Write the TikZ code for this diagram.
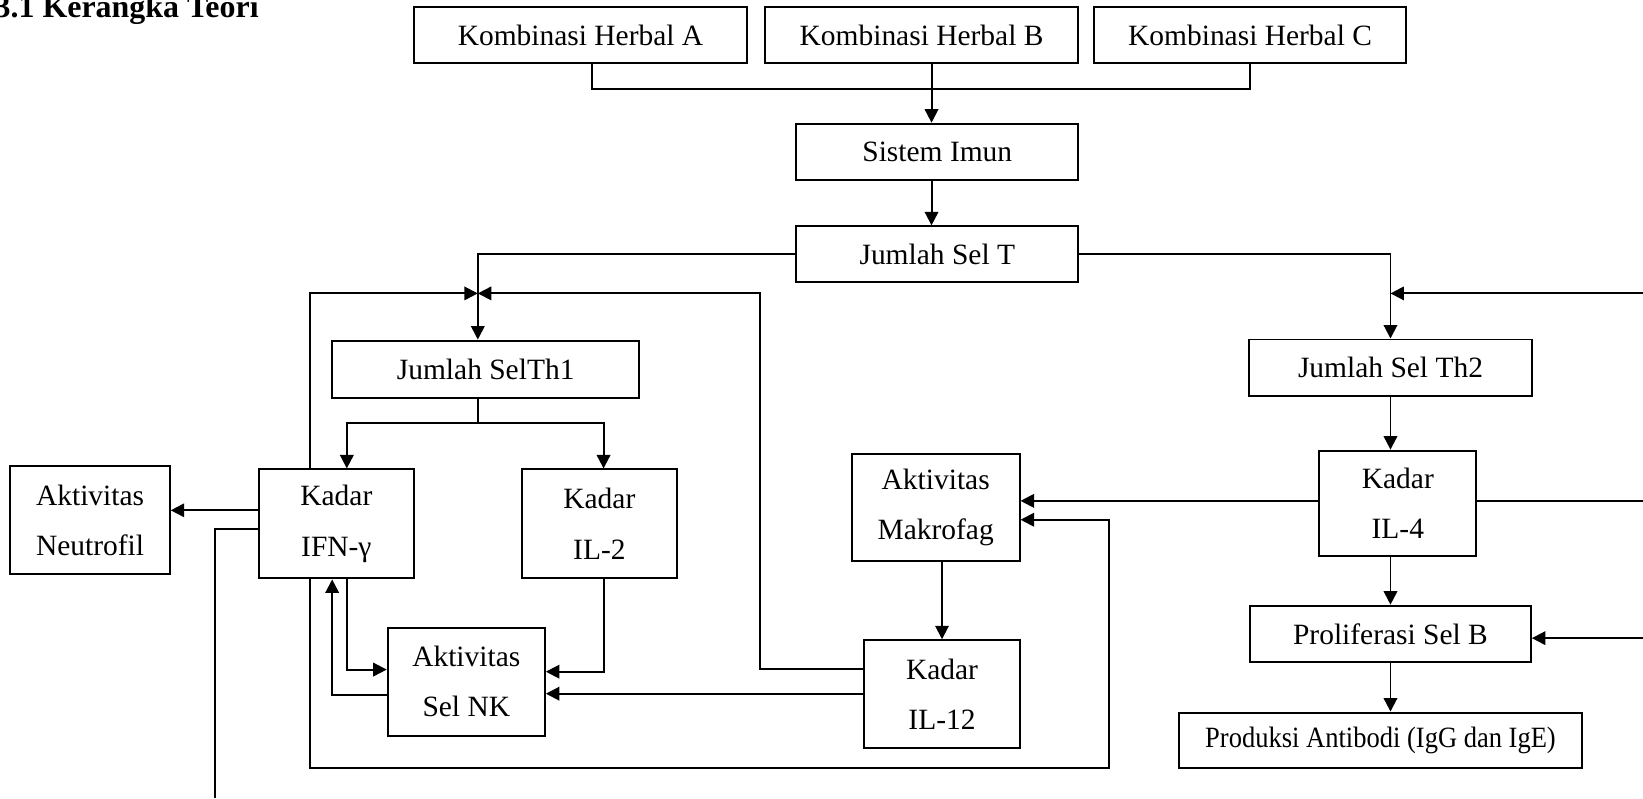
\documentclass[tikz,border=0pt]{standalone}
\usepackage{fontspec}
\setmainfont{Liberation Serif}
\usetikzlibrary{arrows.meta}
\tikzset{
    kotak/.style 2 args={
		draw, line width=0.8pt, inner sep=0pt, align=center,
		minimum width=#1*0.015cm, minimum height=#2*0.015cm,
		font=\fontsize{12}{14}\selectfont
	}
}
\tikzset{
    judul/.style={anchor=base west, inner sep=0pt, font=\bfseries\fontsize{13}{15}\selectfont}
}

\begin{document}
\begin{tikzpicture}[x=0.015cm, y=-0.015cm, line width=0.8pt, >={Triangle[length=5.5pt,width=5.5pt]}]
			\useasboundingbox (0,0) rectangle (1568,762);
			\node[judul] (kt) at (-6,17) {3.1 Kerangka Teori};
			% baris atas
			\node[kotak={318}{53}] (ha) at (554,33.5) {Kombinasi Herbal A};
			\node[kotak={299}{53}] (hb) at (879.5,33.5) {Kombinasi Herbal B};
			\node[kotak={298}{53}] (hc) at (1193,33.5) {Kombinasi Herbal C};
			\node[kotak={269}{54}] (imun) at (894.5,145) {Sistem Imun};
			\node[kotak={269}{53}] (selt) at (894.5,242.5) {Jumlah Sel T};
			% cabang Th1
			\node[kotak={293}{55}] (th1) at (463.5,352.5) {Jumlah SelTh1};
			\node[kotak={148}{104}] (ifn) at (321,500) {Kadar\\[6.5pt]IFN-γ};
			\node[kotak={148}{104}] (il2) at (572,500) {Kadar\\[6.5pt]IL-2};
			\node[kotak={152}{103}] (neu) at (86,496.5) {Aktivitas\\[6.5pt]Neutrofil};
			\node[kotak={150}{103}] (nk) at (445,650.5) {Aktivitas\\[6.5pt]Sel NK};
			\node[kotak={160}{102}] (mak) at (893,484) {Aktivitas\\[6.5pt]Makrofag};
			\node[kotak={148}{103}] (il12) at (899,662.5) {Kadar\\[6.5pt]IL-12};
			% cabang Th2
			\node[kotak={270}{54}] (th2) at (1327,351) {Jumlah Sel Th2};
			\node[kotak={150}{101}] (il4) at (1334,480.5) {Kadar\\[6.5pt]IL-4};
			\node[kotak={268}{54}] (prol) at (1327,605) {Proliferasi Sel B};
			\node[kotak={385}{53}] (prod) at (1317.5,706.5) {\addfontfeatures{FakeStretch=0.9}Produksi Antibodi (IgG dan IgE)};
			% titik bantu
			\coordinate (gab) at (889,85);
			\coordinate (j1) at (456,280);
			\coordinate (j2) at (1327,280);
			\coordinate (j3) at (456,404);
			\coordinate (kanan1) at (1568,280);
			\coordinate (kanan2) at (1568,478);
			\coordinate (kanan3) at (1568,609);
			\coordinate (bawah) at (205,762);
			% panah
			\draw (ha.south -| 565,0) |- (gab) -| (hc.south);
			\draw[->] (hb.south -| gab) -- (imun.north -| gab);
			\draw[->] (imun.south -| gab) -- (selt.north -| gab);
			\draw[->] (selt.west) -| (th1.north -| j1);
			\draw[->] (selt.east) -| (th2.north);
			\draw[->] (ifn.north -| 296,0) |- (j1);
			\draw[->] (il12.west |- 0,638) -| (725,280) -- (j1);
			\draw[->] (kanan1) -- (j2);
			\draw (th1.south -| j3) -- (j3);
			\draw[->] (j3) -| (ifn.north -| 331,0);
			\draw[->] (j3) -| (il2.north -| 576,0);
			\draw[->] (ifn.west |- 0,487) -- (neu.east |- 0,487);
			\draw (ifn.west |- 0,505) -| (bawah);
			\draw[->] (ifn.south -| 331,0) |- (nk.west |- 0,639);
			\draw[->] (nk.west |- 0,663) -| (ifn.south -| 317,0);
			\draw[->] (il2.south -| 576,0) |- (nk.east |- 0,641);
			\draw[->] (il12.west |- 0,662) -- (nk.east |- 0,662);
			\draw[->] (ifn.south -| 296,0) |- (1058,733) |- (mak.east |- 0,496);
			\draw[->] (il4.west |- 0,478) -- (mak.east |- 0,478);
			\draw[->] (mak.south -| il12.north) -- (il12.north);
			\draw[->] (th2.south) -- (il4.north -| th2.south);
			\draw (il4.east |- 0,478) -- (kanan2);
			\draw[->] (il4.south -| th2.south) -- (prol.north);
			\draw[->] (kanan3) -- (prol.east |- 0,609);
			\draw[->] (prol.south) -- (prod.north -| prol.south);
	\end{tikzpicture}
\end{document}
